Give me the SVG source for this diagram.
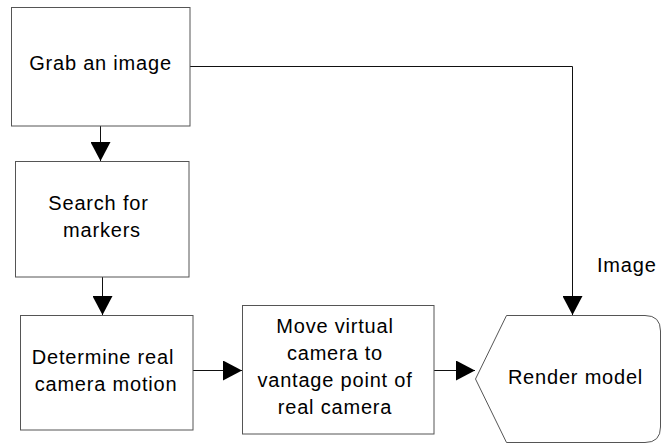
<svg xmlns="http://www.w3.org/2000/svg" width="661" height="444" viewBox="0 0 661 444">
  <style>
    .box { fill: #ffffff; stroke: #555555; stroke-width: 1; }
    .wire { fill: none; stroke: #111111; stroke-width: 1; }
    .lbl { font-family: "Liberation Sans", Arial, sans-serif; font-size: 20px; letter-spacing: 0.8px; fill: #000000; text-anchor: middle; }
    .left { text-anchor: start; }
  </style>
  <defs>
    <marker id="arrow" markerUnits="userSpaceOnUse" markerWidth="20" markerHeight="20" refX="19" refY="10" orient="auto">
      <path d="M0,0 L19,10 L0,20 Z" fill="#000000"/>
    </marker>
  </defs>
  <rect width="661" height="444" fill="#ffffff"/>

  <g id="connectors">
    <path class="wire" d="M100.5,126 V161" marker-end="url(#arrow)"/>
    <path class="wire" d="M102.5,277 V315" marker-end="url(#arrow)"/>
    <path class="wire" d="M193,370.5 H242" marker-end="url(#arrow)"/>
    <path class="wire" d="M434,370.5 H475" marker-end="url(#arrow)"/>
    <path class="wire" d="M190,66.5 H572.5 V315" marker-end="url(#arrow)"/>
    <text class="lbl left" x="597" y="272">Image</text>
  </g>

  <g id="grab">
    <rect class="box" x="11.5" y="7.5" width="178.5" height="118.5"/>
    <text class="lbl" x="100.5" y="70">Grab an image</text>
  </g>

  <g id="search">
    <rect class="box" x="15.5" y="161.5" width="173.5" height="115.5"/>
    <text class="lbl" x="98.5" y="210">Search for</text>
    <text class="lbl" x="102" y="237">markers</text>
  </g>

  <g id="determine">
    <rect class="box" x="20.5" y="315.5" width="172.5" height="114.5"/>
    <text class="lbl" x="103" y="364">Determine real</text>
    <text class="lbl" x="106" y="391">camera motion</text>
  </g>

  <g id="move">
    <rect class="box" x="242.5" y="305.5" width="191.5" height="128.5"/>
    <text class="lbl" x="335" y="333">Move virtual</text>
    <text class="lbl" x="335" y="360">camera to</text>
    <text class="lbl" x="335" y="387">vantage point of</text>
    <text class="lbl" x="335" y="414">real camera</text>
  </g>

  <g id="render">
    <path class="box" d="M506.5,315.5 H645 Q660.5,315.5 660.5,331 V427 Q660.5,442.5 645,442.5 H506.5 L475.5,379 Z"/>
    <text class="lbl" x="575.5" y="384">Render model</text>
  </g>
</svg>
